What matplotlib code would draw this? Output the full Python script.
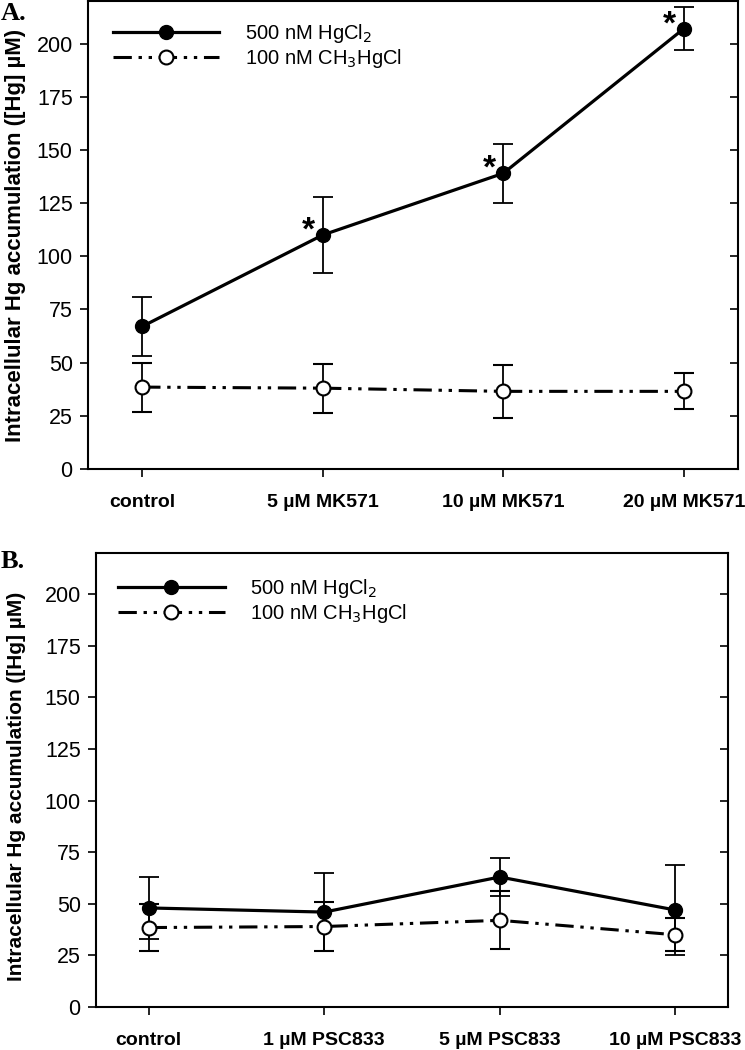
import matplotlib
matplotlib.use('Agg')
import matplotlib.pyplot as plt
from matplotlib.lines import Line2D
import numpy as np

plt.rcParams['font.family'] = ['Liberation Sans', 'DejaVu Sans']

# Panel A: MK571
labels_a = ['control', '5 µM MK571', '10 µM MK571', '20 µM MK571']
hg_a = [67, 110, 139, 207]
hg_a_err = [14, 18, 14, 10]
me_a = [38.5, 38, 36.5, 36.5]
me_a_err = [11.5, 11.5, 12.5, 8.5]
star_a = [False, True, True, True]

# Panel B: PSC833
labels_b = ['control', '1 µM PSC833', '5 µM PSC833', '10 µM PSC833']
hg_b = [48, 46, 63, 47]
hg_b_err = [15, 19, 9, 22]
me_b = [38.5, 39, 42, 35]
me_b_err = [11.5, 12, 14, 8]

yticks = [0, 25, 50, 75, 100, 125, 150, 175, 200]
ylabel = 'Intracellular Hg accumulation ([Hg] µM)'
leg_hg = '500 nM HgCl$_2$'
leg_me = '100 nM CH$_3$HgCl'

W, H = 745, 1050
DASH = [6, 2.2, 1.1, 2.2, 1.1, 2.2]
fig = plt.figure(figsize=(W / 100, H / 100), dpi=100)


def panel(rect, labels, hg, hg_err, me, me_err, stars, tag, tag_y,
          leg_xy, lab_size, lab_y):
    l, t, r, b = rect
    ax = fig.add_axes([l / W, 1 - b / H, (r - l) / W, (b - t) / H])
    x = np.arange(len(labels))
    ax.errorbar(x, hg, yerr=hg_err, color='black', lw=2.3, marker='o',
                ms=10, mfc='black', mec='black', ecolor='black',
                elinewidth=1.3, capsize=7, capthick=1.3, zorder=3)
    ax.errorbar(x, me, yerr=me_err, color='black', lw=2.2, marker='o',
                ms=10, mfc='white', mec='black', mew=1.5, ecolor='black',
                elinewidth=1.3, capsize=7, capthick=1.3,
                dashes=DASH, zorder=3)
    if stars is not None:
        for xi, yi, s in zip(x, hg, stars):
            if s:
                ax.annotate('*', (xi, yi), xytext=(-14, 4),
                            textcoords='offset pixels', ha='center',
                            va='center', fontsize=24, fontweight='bold')
    ax.set_xlim(-0.3, 3.3)
    ax.set_ylim(0, 220)
    ax.set_yticks(yticks)
    ax.set_xticks(x)
    ax.set_xticklabels(labels, fontweight='bold', fontsize=14)
    ax.tick_params(axis='y', direction='out', length=6, width=1.2,
                   labelsize=15.5, right=True, pad=5)
    ax.tick_params(axis='x', direction='out', length=6, width=1.2, pad=12)
    for tk in ax.yaxis.get_major_ticks():
        tk.tick2line.set_marker(matplotlib.lines.TICKLEFT)
    for sp in ax.spines.values():
        sp.set_linewidth(1.5)
    ax.set_ylabel(ylabel, fontweight='bold', fontsize=lab_size)
    ax.yaxis.set_label_coords(-(l - 26) / (r - l), lab_y)
    h1 = Line2D([], [], color='black', lw=2.3, marker='o', ms=10,
                mfc='black', mec='black')
    h2 = Line2D([], [], color='black', lw=2.2, marker='o', ms=10,
                mfc='white', mec='black', mew=1.5, dashes=DASH)
    ax.legend([h1, h2], [leg_hg, leg_me], loc='upper left', frameon=False,
              fontsize=14.5, handlelength=5.3, bbox_to_anchor=leg_xy,
              borderaxespad=0, borderpad=0,
              labelspacing=0.1, handletextpad=1.25)
    fig.text(1 / W, 1 - tag_y / H, tag, family='Liberation Serif',
             fontweight='bold', fontsize=19, va='center')
    return ax


panel((88, 1, 738, 469), labels_a, hg_a, hg_a_err, me_a, me_a_err, star_a,
      'A.', 13, (0.038, 0.955), 16, 0.5)
panel((96, 553, 728, 1007), labels_b, hg_b, hg_b_err, me_b, me_b_err, None,
      'B.', 561, (0.035, 0.948), 15, 0.485)

fig.savefig('out.png', dpi=100)
